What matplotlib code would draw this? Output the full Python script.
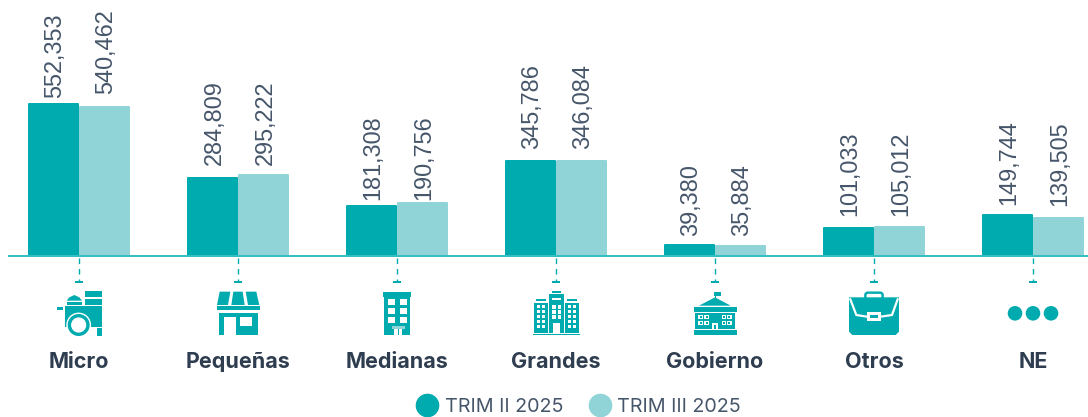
import matplotlib
matplotlib.use("Agg")
import matplotlib.pyplot as plt
from matplotlib.lines import Line2D
from matplotlib.patches import Rectangle, Circle, Polygon, FancyBboxPatch

categories = ["Micro", "Pequeñas", "Medianas", "Grandes", "Gobierno", "Otros", "NE"]
trim_ii = [552353, 284809, 181308, 345786, 39380, 101033, 149744]
trim_iii = [540462, 295222, 190756, 346084, 35884, 105012, 139505]
series_names = ["TRIM II 2025", "TRIM III 2025"]

# gap in pixels between bar top and its label, the original places them by hand
gap_ii = [6, 13, 6, 12, 9, 12, 10]
gap_iii = [13, 10, 3, 12, 10, 11, 12]

TEAL = "#00ABB0"
LIGHT = "#91D4D7"
LINE = "#35BFC3"
DARK = "#2E3D50"
GREY = "#46566A"

W, H = 1088, 417
X0, STEP = 79.0, 159.0   # first group centre and spacing, in pixels
BASE_Y = 256.0
LW = 72.0 / 100          # one pixel in points

fig = plt.figure(figsize=(W / 100, H / 100), dpi=100)
ax = fig.add_axes([8 / W, 1 - BASE_Y / H, (W - 8) / W, BASE_Y / H])
ax.set_xlim((8 - X0) / STEP, (W - X0) / STEP)
ax.set_ylim(0, 930000)
ax.axis("off")

x = list(range(len(categories)))
off = 25.5 / STEP
wid = 49.0 / STEP
# the edge with round joins gives the little rounded corners
b1 = ax.bar([i - off for i in x], trim_ii, wid, color=TEAL, edgecolor=TEAL, linewidth=2 * LW)
b2 = ax.bar([i + off for i in x], trim_iii, wid, color=LIGHT, edgecolor=LIGHT, linewidth=2 * LW)
for b in list(b1) + list(b2):
	b.set_joinstyle("round")

for vals, gaps, sign in ((trim_ii, gap_ii, -1), (trim_iii, gap_iii, 1)):
	for i in x:
		ax.annotate(format(vals[i], ","), (i + sign * off, vals[i]),
			xytext=(1.5 * LW, gaps[i] * LW), textcoords="offset points",
			rotation=90, ha="center", va="bottom", fontsize=16.9,
			family="Liberation Sans", color=GREY, annotation_clip=False)

# overlay in pixel coordinates for the baseline, stems, icons and names
ov = fig.add_axes([0, 0, 1, 1])
ov.set_xlim(0, W)
ov.set_ylim(H, 0)
ov.axis("off")
ov.patch.set_alpha(0)

def rect(x1, y1, x2, y2, c=TEAL):
	ov.add_patch(Rectangle((x1, y1), x2 - x1, y2 - y1, fc=c, ec="none"))

def poly(pts, c=TEAL):
	ov.add_patch(Polygon(pts, closed=True, fc=c, ec="none"))

def zx(cx, zc, z):
	return cx + (z - zc) / 3.0

def zy(z):
	return 240 + z / 3.0

def zrect(cx, zc, a, b, c, d, col=TEAL):
	rect(zx(cx, zc, a), zy(b), zx(cx, zc, c), zy(d), col)

def zpoly(cx, zc, pts, col=TEAL):
	poly([(zx(cx, zc, p), zy(q)) for p, q in pts], col)

def icon_cart(cx):
	zc = 237
	zrect(cx, zc, 255, 153, 306, 172)
	zrect(cx, zc, 255, 177, 306, 195)
	zrect(cx, zc, 194, 198, 305, 261)
	zrect(cx, zc, 291, 265, 306, 288)
	zrect(cx, zc, 171, 201, 189, 210)
	zrect(cx, zc, 200, 186, 246, 195)
	zpoly(cx, zc, [(200, 182), (208, 172), (223, 165), (238, 172), (246, 182)])
	c = zx(cx, zc, 236)
	ov.add_patch(Circle((c, zy(255)), 12.4, fc="white", ec="none"))
	ov.add_patch(Circle((c, zy(255)), 11.0, fc=TEAL, ec="none"))
	ov.add_patch(Circle((c, zy(255)), 7.6, fc="white", ec="none"))

def icon_store(cx):
	zc = 715
	zpoly(cx, zc, [(660, 155), (692, 155), (685, 195), (652, 195)])
	zpoly(cx, zc, [(701, 155), (729, 155), (735, 195), (695, 195)])
	zpoly(cx, zc, [(738, 155), (770, 155), (779, 195), (745, 195)])
	zrect(cx, zc, 651, 198, 780, 211)
	zrect(cx, zc, 657, 218, 775, 285)
	zrect(cx, zc, 672, 232, 710, 285, "white")
	zrect(cx, zc, 720, 232, 757, 258, "white")

def icon_medium(cx):
	zc = 232
	zrect(cx, zc, 191, 155, 273, 170)
	zrect(cx, zc, 194, 172, 270, 285)
	for a, c in ((204, 225), (240, 261)):
		for b, d in ((178, 196), (204, 222), (231, 249)):
			zrect(cx, zc, a, b, c, d, "white")
	zrect(cx, zc, 216, 258, 256, 267, LIGHT)
	zrect(cx, zc, 222, 268, 234, 285, "white")
	zrect(cx, zc, 237, 268, 248, 285, "white")

def icon_towers(cx):
	zc = 708
	zrect(cx, zc, 638, 281, 780, 285)
	zrect(cx, zc, 642, 188, 683, 278)
	zrect(cx, zc, 736, 188, 777, 278)
	zrect(cx, zc, 687, 163, 732, 278)
	zrect(cx, zc, 648, 178, 677, 184)
	zrect(cx, zc, 742, 178, 771, 184)
	zrect(cx, zc, 695, 154, 724, 160)
	zrect(cx, zc, 695, 174, 724, 180, "white")
	for left in (650, 666, 744, 760):
		for top in (196, 211, 226, 241, 256):
			zrect(cx, zc, left, top, left + 9, top + 9, "white")
	for left in (697, 713):
		for top in (196, 211, 226):
			zrect(cx, zc, left, top, left + 10, top + 10, "white")
	zrect(cx, zc, 699, 250, 719, 278, "white")

def icon_gov(cx):
	zc = 226
	zrect(cx, zc, 225, 155, 228, 174)
	zrect(cx, zc, 224, 155, 243, 169)
	zpoly(cx, zc, [(226, 172), (178, 197), (273, 197)])
	zrect(cx, zc, 162, 201, 291, 215)
	zrect(cx, zc, 166, 218, 287, 267)
	zrect(cx, zc, 162, 270, 291, 285)
	for a in (176, 194, 246, 262):
		for b in (225, 243):
			zrect(cx, zc, a, b, a + 14, b + 12, "white")
			zrect(cx, zc, a + 4, b + 4, a + 10, b + 8)
	zrect(cx, zc, 218, 250, 234, 267, "white")
	zrect(cx, zc, 222, 255, 230, 267)

def icon_case(cx):
	zc = 703
	ov.add_patch(FancyBboxPatch((zx(cx, zc, 677), zy(158)), 52 / 3, 20 / 3,
		boxstyle="round,pad=0,rounding_size=2.5", fc="none", ec=TEAL, lw=2.4 * LW))
	zpoly(cx, zc, [(628, 172), (778, 172), (778, 275), (768, 285), (638, 285), (628, 275)])
	for pts in ([(632, 178), (650, 225), (682, 230)], [(774, 178), (757, 225), (723, 230)]):
		ov.add_line(Line2D([zx(cx, zc, p) for p, q in pts], [zy(q) for p, q in pts],
			color="white", lw=2.2 * LW))
	zrect(cx, zc, 681, 215, 725, 242, "white")
	zrect(cx, zc, 690, 226, 716, 235)

def icon_dots(cx):
	for d in (-18, 0, 18):
		ov.add_patch(Circle((cx + d, 313.3), 7.3, fc=TEAL, ec="none"))

icons = [icon_cart, icon_store, icon_medium, icon_towers, icon_gov, icon_case, icon_dots]

ov.plot([8, W], [BASE_Y, BASE_Y], color=LINE, lw=2 * LW, solid_capstyle="butt")
for i, name in enumerate(categories):
	cx = X0 + STEP * i
	ov.plot([cx, cx], [258, 281], color=TEAL, lw=1.4 * LW, dashes=(4, 3.5))
	ov.plot([cx - 4, cx + 4], [281.5, 281.5], color=TEAL, lw=2 * LW, solid_capstyle="butt")
	icons[i](cx)
	ov.text(cx, 362.5, name, ha="center", va="center", fontsize=15.5, fontweight="bold",
		family="Inter", color=DARK)

handles = [Line2D([], [], ls="none", marker="o", ms=16, mfc=c, mec=c) for c in (TEAL, LIGHT)]
leg = ov.legend(handles, series_names, ncol=2, frameon=False, loc="center",
	bbox_to_anchor=(578 / W, 1 - 407 / H), bbox_transform=fig.transFigure,
	prop={"family": "Inter", "size": 14.2, "weight": "normal"}, labelcolor=GREY,
	handletextpad=0.3, columnspacing=1.25, handlelength=1.2, borderpad=0, borderaxespad=0)

fig.savefig("out.png", dpi=100)
